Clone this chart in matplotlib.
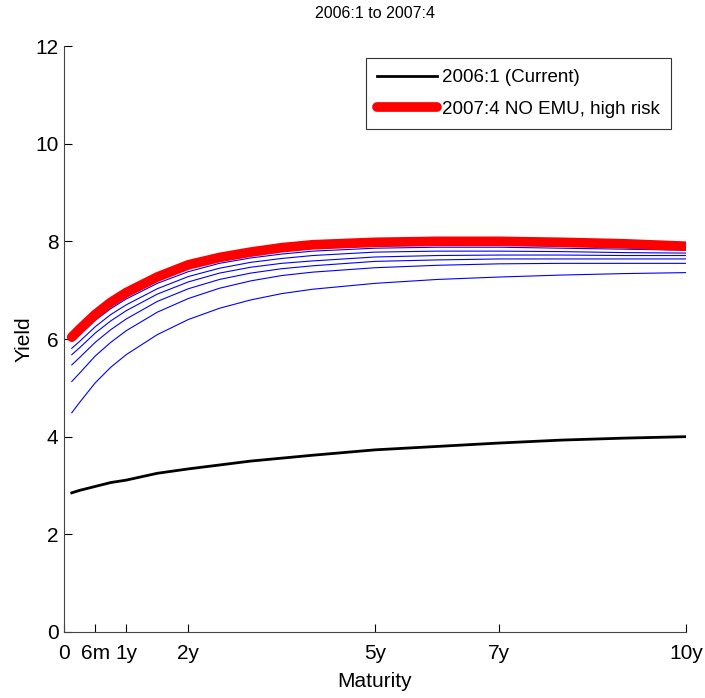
import numpy as np
import matplotlib.pyplot as plt

plt.rcParams['font.family'] = ['Liberation Sans Narrow', 'Liberation Sans', 'DejaVu Sans']

# maturity grid in months
months = [1.5, 3, 6, 9, 12, 18, 24, 30, 36, 42, 48, 60, 72, 84, 96, 108, 120]

current_2006 = [2.85, 2.90, 2.98, 3.06, 3.11, 3.25, 3.34, 3.42, 3.50, 3.56, 3.62,
                3.73, 3.80, 3.87, 3.93, 3.97, 4.00]

# intermediate quarters (blue), lowest to highest
blue_curves = [
    [4.49, 4.70, 5.10, 5.42, 5.68, 6.09, 6.40, 6.63, 6.80, 6.93, 7.02, 7.14, 7.22, 7.27, 7.31, 7.34, 7.36],
    [5.13, 5.30, 5.65, 5.93, 6.17, 6.55, 6.83, 7.04, 7.19, 7.30, 7.37, 7.46, 7.51, 7.54, 7.55, 7.55, 7.55],
    [5.47, 5.62, 5.93, 6.19, 6.41, 6.77, 7.03, 7.22, 7.35, 7.44, 7.50, 7.59, 7.62, 7.64, 7.64, 7.64, 7.64],
    [5.68, 5.82, 6.12, 6.37, 6.58, 6.92, 7.17, 7.35, 7.47, 7.55, 7.60, 7.68, 7.71, 7.72, 7.72, 7.71, 7.71],
    [5.81, 5.95, 6.25, 6.50, 6.70, 7.03, 7.28, 7.45, 7.57, 7.65, 7.71, 7.78, 7.80, 7.80, 7.79, 7.77, 7.76],
    [5.95, 6.08, 6.38, 6.62, 6.82, 7.14, 7.38, 7.55, 7.66, 7.74, 7.80, 7.86, 7.88, 7.88, 7.86, 7.84, 7.82],
    [6.00, 6.16, 6.45, 6.70, 6.90, 7.22, 7.46, 7.62, 7.73, 7.81, 7.87, 7.92, 7.93, 7.93, 7.92, 7.90, 7.88],
]

no_emu_2007 = [6.04, 6.20, 6.50, 6.75, 6.95, 7.27, 7.52, 7.67, 7.78, 7.87, 7.93, 7.98,
               8.00, 8.00, 7.98, 7.95, 7.90]

tick_months = [0, 6, 12, 24, 60, 84, 120]
tick_labels = ['0', '6m', '1y', '2y', '5y', '7y', '10y']

fig = plt.figure(figsize=(7.05, 6.98), dpi=100)
ax = fig.add_axes([0.0908, 0.0946, 0.8822, 0.8394])

for curve in blue_curves:
    ax.plot(months, curve, color='#0000ff', linewidth=0.8)
ax.plot(months, current_2006, color='black', linewidth=2.0, label='2006:1 (Current)')
ax.plot(months, no_emu_2007, color='#ff0000', linewidth=7, solid_capstyle='round',
        label='2007:4 NO EMU, high risk')

ax.set_xlim(0, 120)
ax.set_ylim(0, 12)
ax.set_xticks(tick_months)
ax.set_xticklabels(tick_labels)
ax.set_yticks(range(0, 13, 2))
ax.tick_params(direction='in', length=6, width=0.8, labelsize=15)
ax.tick_params(axis='x', pad=9)
ax.tick_params(axis='y', pad=4)
ax.spines['top'].set_visible(False)
ax.spines['right'].set_visible(False)
for s in ['left', 'bottom']:
    ax.spines[s].set_color('#444444')

ax.set_xlabel('Maturity', fontsize=15, labelpad=6)
ax.set_ylabel('Yield', fontsize=15, labelpad=1)
ax.set_title('2006:1 to 2007:4', fontsize=11.5, pad=20)

leg = ax.legend(loc='upper right', bbox_to_anchor=(671 / 705, 1 - 58 / 698),
                bbox_transform=fig.transFigure, fontsize=13.5, frameon=True,
                fancybox=False, edgecolor='black', handlelength=3.2,
                borderpad=0.6, labelspacing=0.75, handletextpad=0.25, borderaxespad=0)
leg.get_frame().set_linewidth(0.8)

fig.savefig('out.png', dpi=100)
